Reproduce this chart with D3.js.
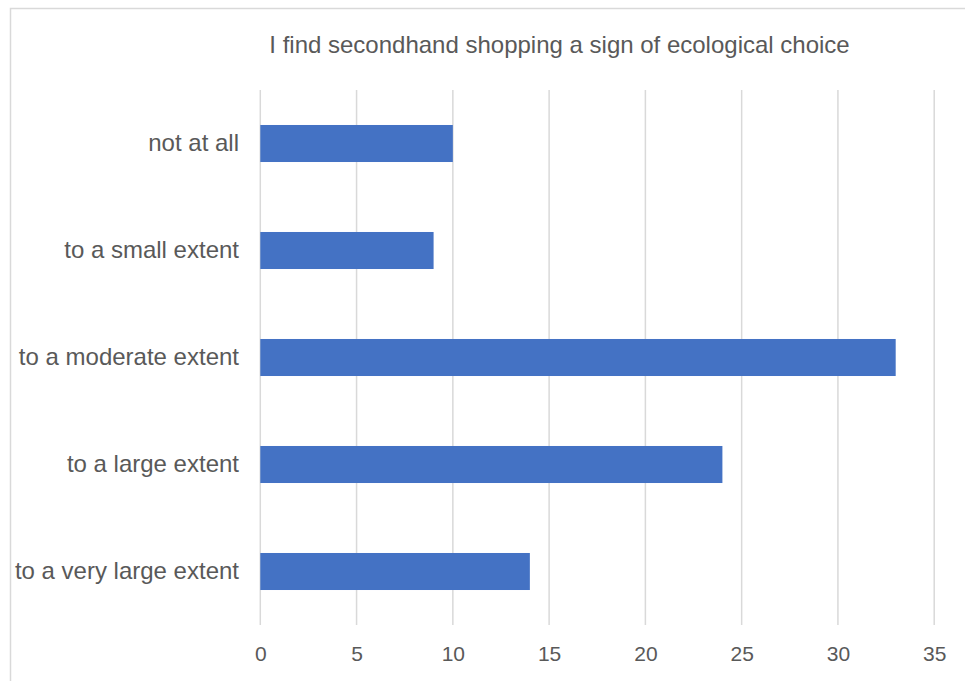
<!DOCTYPE html>
<html><head><meta charset="utf-8">
<script src="https://cdn.jsdelivr.net/npm/d3@7"></script>
<style>body{margin:0;background:#fff}svg{display:block}</style>
</head><body>
<svg id="c" width="965" height="681"></svg>
<script>
const categories = ["not at all","to a small extent","to a moderate extent","to a large extent","to a very large extent"];
const values = [10, 9, 33, 24, 14];
const tickValues = [0,5,10,15,20,25,30,35];
const title = "I find secondhand shopping a sign of ecological choice";

const FONT = "'Liberation Sans', Arial, sans-serif";
const svg = d3.select("#c");
svg.append("rect").attr("x",10.5).attr("y",8.5).attr("width",1000).attr("height",1000)
  .attr("fill","#fff").attr("stroke","#d9d9d9").attr("stroke-width",1.5);

const x = d3.scaleLinear().domain([0,35]).range([260.3,934.2]);
const y = d3.scaleBand().domain(categories).range([90,625]).paddingInner(0.654).paddingOuter(0.327);

// gridlines
svg.append("g").selectAll("line").data(tickValues).join("line")
  .attr("x1",d=>x(d)).attr("x2",d=>x(d)).attr("y1",90).attr("y2",625)
  .attr("stroke","#d9d9d9").attr("stroke-width",1.5);

// bars
svg.append("g").selectAll("rect").data(values).join("rect")
  .attr("x",x(0)).attr("y",(d,i)=>y(categories[i]))
  .attr("width",d=>x(d)-x(0)).attr("height",y.bandwidth())
  .attr("fill","#4472c4");

// x axis labels
const xa = svg.append("g").attr("transform","translate(0,625)")
  .call(d3.axisBottom(x).tickValues(tickValues).tickSize(0).tickPadding(21));
xa.select(".domain").remove();
xa.selectAll("text").attr("fill","#595959").style("font-family",FONT).style("font-size","21px");

// y axis labels
const ya = svg.append("g").attr("transform","translate(239,0)")
  .call(d3.axisLeft(y).tickSize(0).tickPadding(0));
ya.select(".domain").remove();
ya.selectAll("text").attr("fill","#595959").style("font-family",FONT).style("font-size","24px");

svg.append("text").attr("x",559.5).attr("y",52.5).attr("text-anchor","middle")
  .attr("fill","#595959").style("font-family",FONT).style("font-size","24px")
  .text(title);
</script>
</body></html>
